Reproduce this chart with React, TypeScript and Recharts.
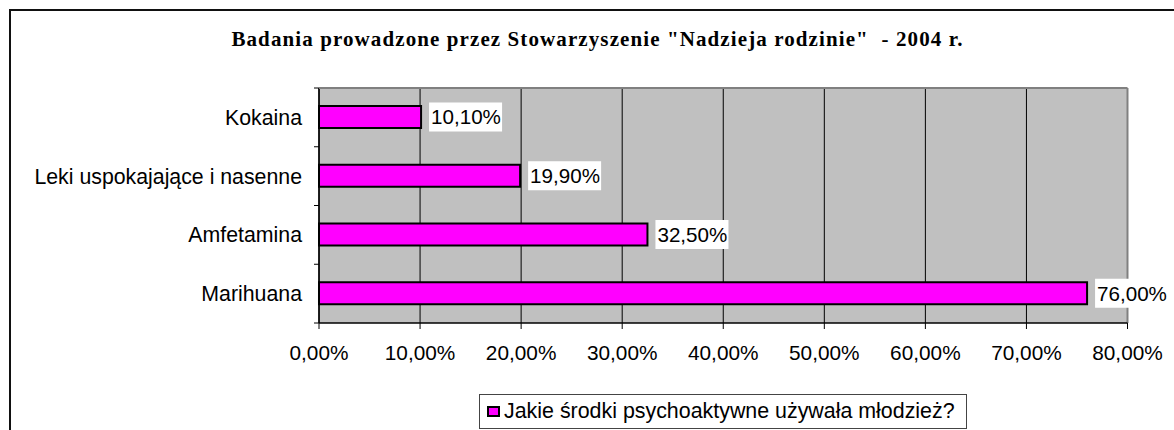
import { BarChart, Bar, XAxis, YAxis, CartesianGrid, Legend, LabelList } from "recharts"

const categories = ["Kokaina", "Leki uspokajające i nasenne", "Amfetamina", "Marihuana"]
const values = [10.1, 19.9, 32.5, 76.0]
const xTicks = [0, 10, 20, 30, 40, 50, 60, 70, 80]
const seriesName = "Jakie środki psychoaktywne używała młodzież?"
const title = 'Badania prowadzone przez Stowarzyszenie "Nadzieja rodzinie"  - 2004 r.'

const data = categories.map((name, i) => ({ name, value: values[i] }))

const sans = '"Liberation Sans", Arial, sans-serif'
const serif = '"Liberation Serif", "Times New Roman", serif'

const fmt = (v: number) => v.toFixed(2).replace(".", ",") + "%"

const CAT_TICK = 5
const CAT_MARGIN = 12

// label plus small tick marks at the category boundaries (Excel style)
function CategoryTick(props: any) {
  const { x, y, payload } = props
  const axisX = Number(x) + CAT_TICK + CAT_MARGIN
  const half = Number(payload?.offset) || 29.4
  const last = payload?.index === categories.length - 1
  return (
    <g>
      <line x1={axisX - CAT_TICK} x2={axisX} y1={y - half} y2={y - half} stroke="#000" />
      {last && <line x1={axisX - CAT_TICK} x2={axisX} y1={y + half} y2={y + half} stroke="#000" />}
      <text x={x} y={y} dy="0.355em" textAnchor="end" fontSize={21.3} fontFamily={sans} fill="#000">
        {payload.value}
      </text>
    </g>
  )
}

function ValueLabel(props: any) {
  const { x, y, width, height, value } = props
  const bx = Number(x) + Number(width) + 8
  const cy = Number(y) + Number(height) / 2
  return (
    <g>
      <rect x={bx} y={cy - 14.5} width={73} height={29} fill="#fff" />
      <text x={bx + 2} y={cy} dy="0.36em" fontSize={20.6} fontFamily={sans} fill="#000">
        {fmt(value)}
      </text>
    </g>
  )
}

function LegendBox(props: any) {
  const item = props.payload?.[0]
  return (
    <div
      style={{
        boxSizing: "border-box",
        width: 488,
        height: 35,
        border: "1px solid #444",
        background: "#fff",
        display: "flex",
        alignItems: "center",
        fontFamily: sans,
        fontSize: 21.4,
        color: "#000",
      }}
    >
      <span
        style={{
          display: "inline-block",
          width: 9,
          height: 7,
          background: item?.color ?? "#FF00FF",
          border: "2px solid #000",
          marginLeft: 7,
        }}
      />
      <span style={{ marginLeft: 4, whiteSpace: "nowrap" }}>{item?.value ?? seriesName}</span>
    </div>
  )
}

export default function App() {
  return (
    <div style={{ position: "absolute", left: 0, top: 0, width: 1174, height: 430, overflow: "hidden", background: "#fff" }}>
      <div
        style={{
          position: "absolute",
          left: 9,
          top: 9,
          width: 1300,
          height: 600,
          borderLeft: "2px solid #111",
          borderTop: "2px solid #111",
        }}
      />
      <BarChart
        width={1174}
        height={430}
        data={data}
        layout="vertical"
        margin={{ top: 87, right: 45.5, bottom: 0, left: 0 }}
        barCategoryGap={0}
      >
        <text
          x={597.5}
          y={45.5}
          textAnchor="middle"
          fontFamily={serif}
          fontWeight="bold"
          fontSize={21}
          letterSpacing={1.1}
          fill="#000"
          style={{ whiteSpace: "pre" }}
        >
          {title}
        </text>
        <CartesianGrid horizontal={false} vertical stroke="#000" fill="#C0C0C0" />
        <YAxis
          yAxisId="cat"
          type="category"
          dataKey="name"
          width={319}
          tickLine={false}
          axisLine={{ stroke: "#000", strokeWidth: 1.5 }}
          tickSize={CAT_TICK}
          tickMargin={CAT_MARGIN}
          tick={CategoryTick}
        />
        <YAxis
          yAxisId="right"
          orientation="right"
          type="number"
          domain={[0, 1]}
          width={1}
          tick={false}
          tickLine={false}
          axisLine={{ stroke: "#808080", strokeWidth: 2 }}
        />
        <XAxis
          xAxisId={0}
          type="number"
          domain={[0, 80]}
          ticks={xTicks}
          tickFormatter={fmt}
          tickSize={6}
          tickMargin={16}
          height={107}
          axisLine={{ stroke: "#000", strokeWidth: 1.5 }}
          tickLine={{ stroke: "#000" }}
          tick={{ fontSize: 20.8, fill: "#000", fontFamily: sans }}
        />
        <XAxis
          xAxisId="top"
          orientation="top"
          type="number"
          domain={[0, 80]}
          height={1}
          tick={false}
          tickLine={false}
          axisLine={{ stroke: "#808080", strokeWidth: 2 }}
        />
        <Legend
          verticalAlign="middle"
          align="center"
          layout="horizontal"
          content={LegendBox}
          wrapperStyle={{ left: 479, top: 394, width: 488 }}
        />
        <Bar
          dataKey="value"
          name={seriesName}
          xAxisId={0}
          yAxisId="cat"
          fill="#FF00FF"
          stroke="#000"
          strokeWidth={2}
          barSize={22}
          isAnimationActive={false}
        >
          <LabelList dataKey="value" content={ValueLabel} />
        </Bar>
      </BarChart>
    </div>
  )
}
